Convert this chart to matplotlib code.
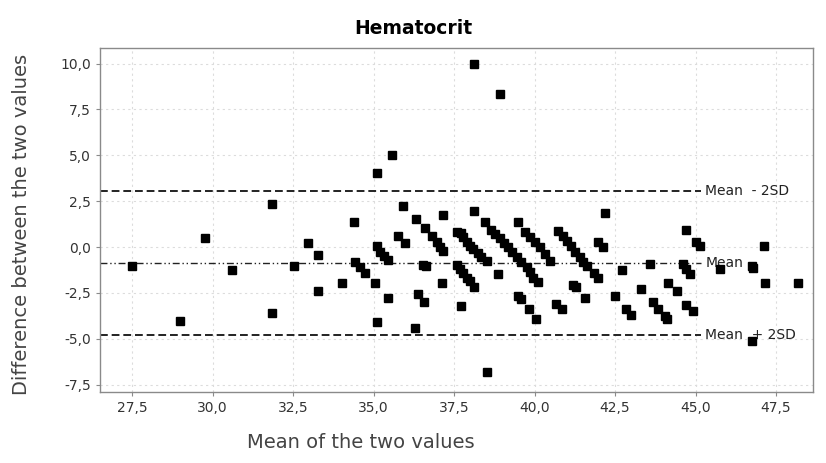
import numpy as np
import matplotlib
matplotlib.use("Agg")
import matplotlib.pyplot as plt
from matplotlib.ticker import FuncFormatter, MultipleLocator

# mean of the two values
mean_vals = [
    27.5, 28.98, 29.76, 30.59, 31.83, 31.83, 32.53, 32.97, 33.26, 33.26,
    34.02, 34.38, 34.42, 34.57, 34.73, 35.09, 35.56, 35.09, 35.19, 35.33,
    35.45, 35.05, 35.09, 35.45, 35.92, 35.76, 35.99, 36.33, 36.59, 36.80,
    36.96, 37.06, 37.16, 37.16, 36.54, 36.62, 37.11, 36.38, 36.57, 36.28,
    38.11, 38.94, 38.11, 38.45,
    37.60, 37.71, 37.79, 37.89, 37.99, 38.09, 38.23, 38.35, 38.51,
    37.58, 37.68, 37.79, 37.89, 37.99, 38.11,
    37.70, 38.52,
    38.66, 38.76, 38.92, 39.04, 39.18, 39.31, 39.44, 39.59, 39.75, 39.85, 39.96, 40.11,
    38.87, 39.49,
    39.70, 39.85, 40.01, 40.16, 40.32, 40.47,
    39.49, 39.59, 39.83, 40.06,
    40.73, 40.88, 41.00, 41.12, 41.25, 41.40, 41.51, 41.62,
    41.20, 41.30, 40.66, 40.85, 41.57,
    42.20, 41.97, 42.13, 41.84, 41.97, 42.49, 42.72, 42.85, 43.01, 43.32, 43.60,
    43.68, 43.84, 44.04, 44.10, 44.15, 44.41, 44.61, 44.72, 44.82, 44.72,
    45.03, 45.13, 44.72, 44.92, 45.75, 46.74, 46.79, 47.12, 47.15, 48.18, 46.74,
]
# difference between the two values
diff_vals = [
    -1.05, -4.03, 0.49, -1.24, 2.35, -3.62, -1.05, 0.20, -0.42, -2.39,
    -1.97, 1.35, -0.80, -1.11, -1.42, 4.01, 5.04, 0.04, -0.26, -0.51,
    -0.71, -1.95, -4.11, -2.75, 2.26, 0.62, 0.20, 1.53, 1.02, 0.58,
    0.26, -0.02, -0.20, 1.75, -0.97, -1.04, -1.97, -2.57, -2.99, -4.43,
    9.98, 8.32, 1.95, 1.35,
    0.82, 0.77, 0.53, 0.29, 0.07, -0.11, -0.33, -0.56, -0.78,
    -0.97, -1.20, -1.42, -1.66, -1.87, -2.15,
    -3.21, -6.79,
    0.95, 0.71, 0.47, 0.22, -0.02, -0.29, -0.56, -0.84, -1.11, -1.38, -1.66, -1.93,
    -1.48, 1.35,
    0.80, 0.53, 0.26, -0.02, -0.38, -0.75,
    -2.66, -2.84, -3.39, -3.90,
    0.86, 0.60, 0.33, 0.05, -0.25, -0.55, -0.80, -1.02,
    -2.08, -2.20, -3.08, -3.39, -2.79,
    1.86, 0.29, -0.02, -1.42, -1.71, -2.66, -1.24, -3.39, -3.70, -2.26, -0.93,
    -3.02, -3.35, -3.75, -3.93, -1.97, -2.39, -0.93, -1.20, -1.48, 0.93,
    0.26, 0.07, -3.17, -3.51, -1.20, -1.02, -1.16, 0.07, -1.97, -1.97, -5.12,
]

mean_diff = -0.87
sd_diff = 1.96
line_labels = ["Mean  - 2SD", "Mean", "Mean  + 2SD"]
line_values = [mean_diff + 2 * sd_diff, mean_diff, mean_diff - 2 * sd_diff]

fig = plt.figure(figsize=(8.26, 4.63), dpi=100)
ax = fig.add_axes([100 / 826, 1 - 392 / 463, 713 / 826, 344 / 463])

ax.set_xlim(26.5, 48.65)
ax.set_ylim(-7.9, 10.85)
ax.xaxis.set_major_locator(MultipleLocator(2.5))
ax.yaxis.set_major_locator(MultipleLocator(2.5))
comma = FuncFormatter(lambda v, p: ("%.1f" % v).replace(".", ","))
ax.xaxis.set_major_formatter(comma)
ax.yaxis.set_major_formatter(comma)
ax.grid(True, color="#dcdcdc", linestyle=(0, (2, 3)), linewidth=0.8)
ax.set_axisbelow(True)
for s in ax.spines.values():
    s.set_color("#8a8a8a")
    s.set_linewidth(1.0)
ax.tick_params(colors="#8a8a8a", labelcolor="#333333", labelsize=10, length=3)

xend = 45.18
styles = [(0, (4, 2)), (0, (5, 2, 1, 2, 1, 2)), (0, (4, 2))]
widths = [1.4, 1.0, 1.4]
for val, lab, ls, lw in zip(line_values, line_labels, styles, widths):
    ax.plot([26.5, xend], [val, val], color="#222222", linestyle=ls, linewidth=lw, zorder=2)
    ax.text(xend + 0.12, val, lab, fontsize=10, color="#222222", va="center", ha="left", zorder=2)

ax.plot(mean_vals, diff_vals, linestyle="none", marker="s", markersize=5.2,
        color="black", zorder=3)

fig.text(413 / 826, 1 - 28 / 463, "Hematocrit", fontsize=13.5, fontweight="bold",
         ha="center", va="center", color="black")
fig.text(361 / 826, 1 - 442 / 463, "Mean of the two values", fontsize=14,
         ha="center", va="center", color="#444444")
fig.text(22 / 826, 1 - 224 / 463, "Difference between the two values", fontsize=14,
         ha="center", va="center", rotation=90, color="#444444")

fig.savefig("out.png", dpi=100)
